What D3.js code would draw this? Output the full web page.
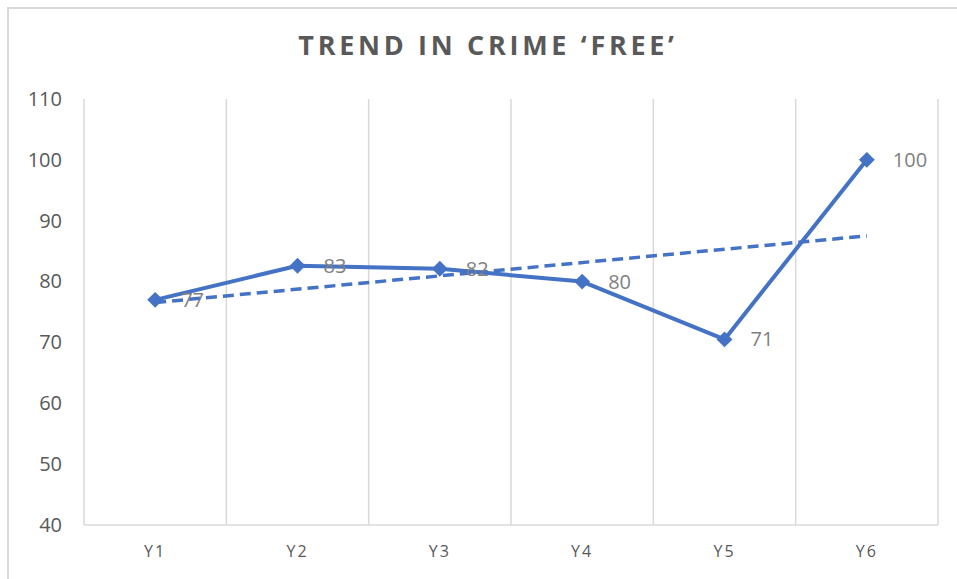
<!DOCTYPE html>
<html>
<head>
<meta charset="utf-8">
<script src="https://cdn.jsdelivr.net/npm/d3@7"></script>
<style>
  html, body { margin: 0; padding: 0; background: #fff; }
  svg { display: block; }
</style>
</head>
<body>
<svg id="chart" width="957" height="579"></svg>
<script>
const categories = ["Y1", "Y2", "Y3", "Y4", "Y5", "Y6"];
const values = [77, 82.6, 82.1, 80, 70.5, 100];
const labels = ["77", "83", "82", "80", "71", "100"];
const yTicks = [40, 50, 60, 70, 80, 90, 100, 110];
const title = "TREND IN CRIME \u2018FREE\u2019";

const svg = d3.select("#chart");
const m = { left: 84, right: 938, top: 99, bottom: 525 };

// outer chart border
svg.append("rect")
  .attr("x", 8).attr("y", 8)
  .attr("width", 960).attr("height", 600)
  .attr("fill", "none").attr("stroke", "#d9d9d9").attr("stroke-width", 2);

const x = d3.scaleBand().domain(categories).range([m.left, m.right]).padding(0);
const y = d3.scaleLinear().domain([40, 110]).range([m.bottom, m.top]);

// vertical gridlines at category boundaries
const bounds = categories.map(c => x(c)).concat([m.right]);
svg.append("g").selectAll("line").data(bounds).join("line")
  .attr("x1", d => d).attr("x2", d => d)
  .attr("y1", m.top).attr("y2", m.bottom)
  .attr("stroke", "#d9d9d9").attr("stroke-width", 1.5);

// bottom axis line
svg.append("line")
  .attr("x1", m.left).attr("x2", m.right)
  .attr("y1", m.bottom).attr("y2", m.bottom)
  .attr("stroke", "#d9d9d9").attr("stroke-width", 1.5);

// y axis labels
const yAxis = d3.axisLeft(y).tickValues(yTicks).tickSize(0).tickPadding(22);
const gy = svg.append("g").attr("transform", `translate(${m.left},0)`).call(yAxis);
gy.select(".domain").remove();
gy.selectAll("text")
  .attr("font-family", "'Open Sans', sans-serif")
  .attr("font-size", 20).attr("fill", "#595959");

// x axis labels
const xAxis = d3.axisBottom(x).tickSize(0).tickPadding(21);
const gx = svg.append("g").attr("transform", `translate(0,${m.bottom})`).call(xAxis);
gx.select(".domain").remove();
gx.selectAll("text")
  .attr("font-family", "'Open Sans', sans-serif")
  .attr("font-size", 16).attr("fill", "#595959")
  .attr("letter-spacing", "2px");

// title
svg.append("text")
  .attr("x", 488).attr("y", 55)
  .attr("text-anchor", "middle")
  .attr("font-family", "'Open Sans', sans-serif")
  .attr("font-weight", "bold")
  .attr("font-size", 27)
  .attr("letter-spacing", "3.7px")
  .attr("fill", "#595959")
  .text(title);

const cx = c => x(c) + x.bandwidth() / 2;

// linear trendline from data
const n = values.length;
const xs = values.map((v, i) => i + 1);
const mx = d3.mean(xs), my = d3.mean(values);
const slope = d3.sum(xs.map((xi, i) => (xi - mx) * (values[i] - my))) / d3.sum(xs.map(xi => (xi - mx) ** 2));
const icpt = my - slope * mx;
svg.append("line")
  .attr("x1", cx(categories[0])).attr("y1", y(icpt + slope * 1))
  .attr("x2", cx(categories[n - 1])).attr("y2", y(icpt + slope * n))
  .attr("stroke", "#4472C4").attr("stroke-width", 3.5)
  .attr("stroke-dasharray", "11,6");

// data line
const line = d3.line().x((d, i) => cx(categories[i])).y(d => y(d));
svg.append("path").datum(values)
  .attr("d", line)
  .attr("fill", "none").attr("stroke", "#4472C4")
  .attr("stroke-width", 4).attr("stroke-linejoin", "round");

// diamond markers
const sym = d3.symbol().type(d3.symbolDiamond2).size(160);
svg.append("g").selectAll("path").data(values).join("path")
  .attr("d", sym)
  .attr("transform", (d, i) => `translate(${cx(categories[i])},${y(d)})`)
  .attr("fill", "#4472C4");

// data labels
svg.append("g").selectAll("text").data(values).join("text")
  .attr("x", (d, i) => cx(categories[i]) + 26)
  .attr("y", d => y(d) + 7)
  .attr("font-family", "'Open Sans', sans-serif")
  .attr("font-size", 20).attr("fill", "#7f7f7f")
  .text((d, i) => labels[i]);
</script>
</body>
</html>
